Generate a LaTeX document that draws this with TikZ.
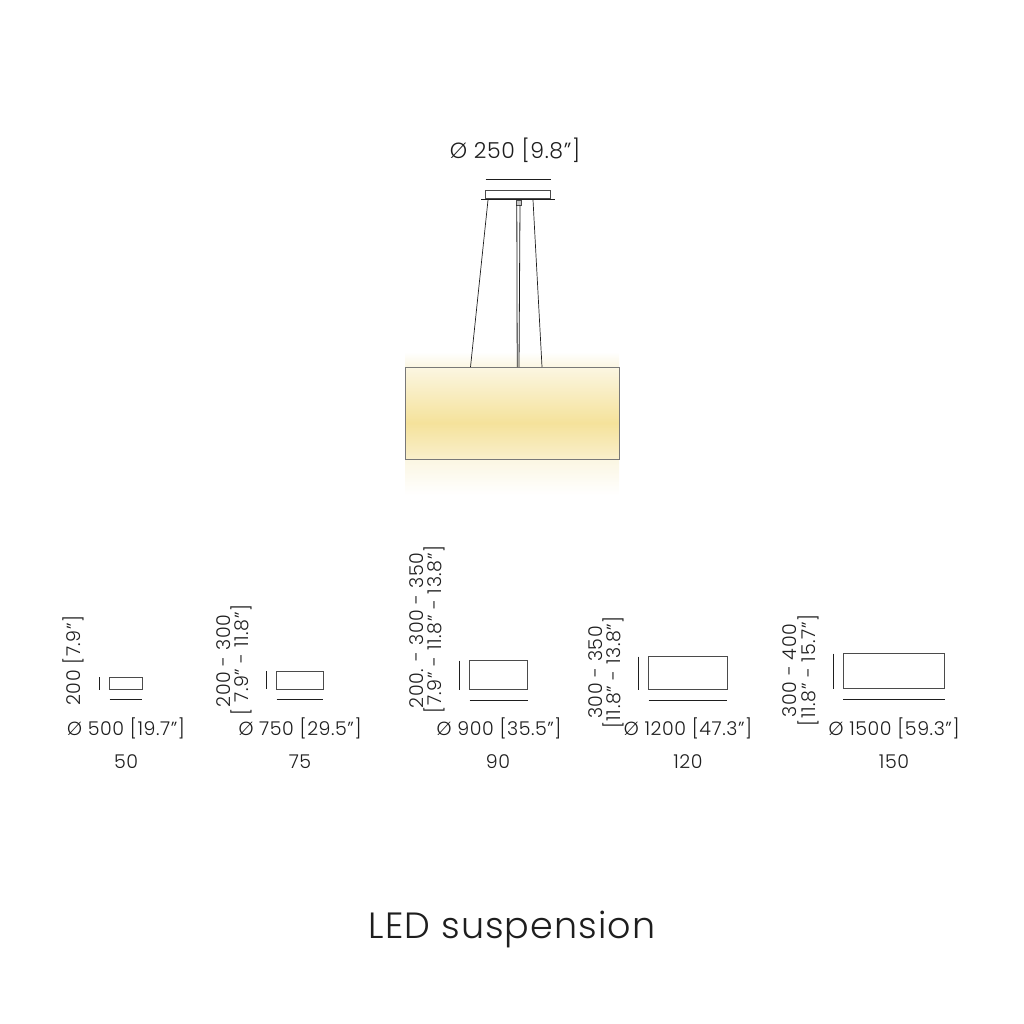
\documentclass[tikz,border=0pt]{standalone}
\usepackage{fontspec}
\setmainfont{Poppins Light}[LetterSpace=3]
\definecolor{inkline}{HTML}{1E1E1E}
\definecolor{glowlow}{HTML}{F9EFCB}
\definecolor{glowmid}{HTML}{F5E29B}
\definecolor{glowtop}{HTML}{FBF6E2}
\pgfdeclareverticalshading{shadebody}{100bp}{color(0bp)=(glowlow); color(25bp)=(glowlow); color(44.6bp)=(glowmid); color(75bp)=(glowtop); color(100bp)=(glowtop)}
\begin{document}
\begin{tikzpicture}[x=1pt,y=-1pt,inner sep=0pt,outer sep=0pt,line width=.8pt,draw=inkline,text=inkline,
sizebox/.style={draw=inkline!80,rectangle,anchor=north west,line width=1pt},
dimline/.style={line width=.8pt},
dimtext/.style={font=\fontsize{19}{19}\selectfont},
hgttext/.style={font=\fontsize{19}{19}\selectfont,rotate=90}]
\useasboundingbox (0,0) rectangle (1024,1024);

% lamp glow and body
\shade[top color=white,bottom color=glowtop] (405,352) rectangle (619,367);
\shade[top color=glowtop,bottom color=white] (405,459) rectangle (619,495);
\draw (405,367) node[sizebox,draw=inkline!60,minimum width=214pt,minimum height=92pt,shading=shadebody] (body) {};

% ceiling part
\draw (485.5,191) node[sizebox,minimum width=65pt,minimum height=8pt] (canopy) {};
\draw (481,199.5) node[anchor=west,minimum width=74pt,minimum height=1.8pt,fill=inkline] (plate) {};
\draw (516,200) node[sizebox,minimum width=5pt,minimum height=5pt,line width=.5pt,fill=inkline!25] (clamp) {};
\draw[dimline] ([yshift=11.5pt]canopy.north west) -- ([yshift=11.5pt]canopy.north east);
\draw (515,150) node[font=\fontsize{22}{22}\selectfont] (topdim) {Ø 250 [9.8”]};

% wires
\coordinate (wireL) at (470.5,367);
\coordinate (wireR) at (542,367);
\draw[line width=.7pt] (488,200) -- (wireL);
\draw[line width=.7pt] (533,200) -- (wireR);
\draw[line width=.8pt] (516.8,205) -- (517.2,367);
\draw[line width=.8pt] (520,205) -- (519,367);

% sizes
\draw (109.5,677) node[sizebox,minimum width=32.5pt,minimum height=12.5pt] (s50) {};
\draw[dimline] ([yshift=-10pt]s50.south west) -- ([yshift=-10pt]s50.south east);
\draw[dimline] ([xshift=-10pt]s50.north west) -- ([xshift=-10pt]s50.south west);
\draw (73.5,660.5) node[hgttext] (h50) {200 [7.9”]};
\draw (126,728) node[dimtext] (d50) {Ø 500 [19.7”]};
\draw (126,762) node[dimtext] (n50) {50};

\draw (276.7,671.3) node[sizebox,minimum width=46.6pt,minimum height=18pt] (s75) {};
\draw[dimline] ([yshift=-10pt]s75.south west) -- ([yshift=-10pt]s75.south east);
\draw[dimline] ([xshift=-10.5pt]s75.north west) -- ([xshift=-10.5pt]s75.south west);
\draw (223.5,661) node[hgttext] (h75) {200 - 300};
\draw (241,660) node[hgttext] (i75) {[ 7.9” - 11.8”]};
\draw (300,728) node[dimtext] (d75) {Ø 750 [29.5”]};
\draw (300,762) node[dimtext] (n75) {75};

\draw (469.5,660.7) node[sizebox,minimum width=58.2pt,minimum height=29pt] (s90) {};
\draw[dimline] ([yshift=-10.5pt]s90.south west) -- ([yshift=-10.5pt]s90.south east);
\draw[dimline] ([xshift=-10pt]s90.north west) -- ([xshift=-10pt]s90.south west);
\draw (417,630.5) node[hgttext] (h90) {200. - 300 - 350};
\draw (434,629.5) node[hgttext] (i90) {[7.9” - 11.8” - 13.8”]};
\draw (499,728) node[dimtext] (d90) {Ø 900 [35.5”]};
\draw (498,762) node[dimtext] (n90) {90};

\draw (648.7,656.7) node[sizebox,minimum width=78.3pt,minimum height=33pt] (s120) {};
\draw[dimline] ([yshift=-10.5pt]s120.south west) -- ([yshift=-10.5pt]s120.south east);
\draw[dimline] ([xshift=-10.4pt]s120.north west) -- ([xshift=-10.4pt]s120.south west);
\draw (596,672.5) node[hgttext] (h120) {300 - 350};
\draw (613,672.5) node[hgttext] (i120) {[11.8” - 13.8”]};
\draw (688,728) node[dimtext] (d120) {Ø 1200 [47.3”]};
\draw (688,762) node[dimtext] (n120) {120};

\draw (843.3,653.7) node[sizebox,minimum width=101.4pt,minimum height=35pt] (s150) {};
\draw[dimline] ([yshift=-10.3pt]s150.south west) -- ([yshift=-10.3pt]s150.south east);
\draw[dimline] ([xshift=-10.3pt]s150.north west) -- ([xshift=-10.3pt]s150.south west);
\draw (790,670.5) node[hgttext] (h150) {300 - 400};
\draw (808,670.5) node[hgttext] (i150) {[11.8” - 15.7”]};
\draw (894,728) node[dimtext] (d150) {Ø 1500 [59.3”]};
\draw (894,762) node[dimtext] (n150) {150};

\draw (512,929) node[font=\fontsize{36.5}{37}\selectfont] (title) {LED suspension};
\end{tikzpicture}
\end{document}
